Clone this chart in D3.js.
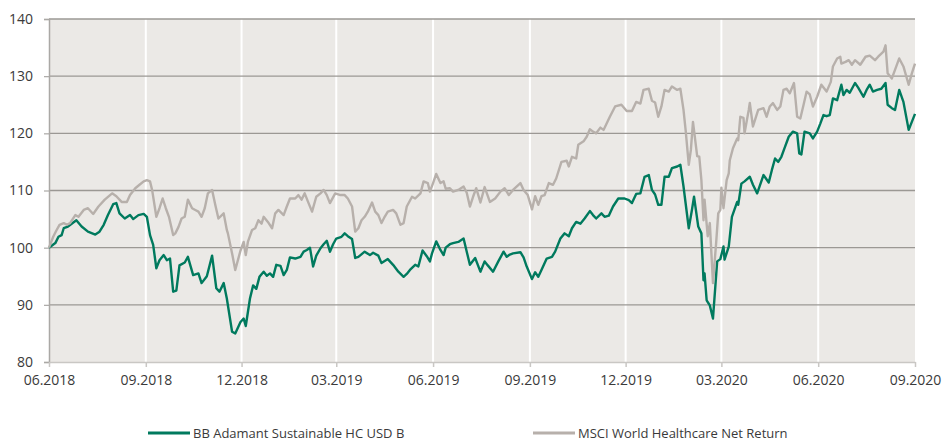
<!DOCTYPE html>
<html>
<head>
<meta charset="utf-8">
<script src="https://cdn.jsdelivr.net/npm/d3@7"></script>
<style>
  body { margin: 0; background: #fff; }
  svg { display: block; font-family: "Open Sans", sans-serif; }
</style>
</head>
<body>
<svg id="chart" width="943" height="442"></svg>
<script>
// days since 01.06.2018 and indexed values (start = 100)
const startDate = new Date(2018, 5, 1);
const endDate = new Date(2020, 8, 1);

const fundDays = [0,6,9,12,14,18,26,31,37,44,48,52,56,61,64,67,72,77,80,85,90,93,96,99,102,105,109,112,115,118,121,124,129,132,137,142,145,150,155,159,162,166,169,174,177,182,185,187,191,194,197,200,204,207,210,213,216,220,223,226,229,234,239,242,245,248,251,254,258,261,264,267,270,273,278,281,284,288,291,294,300,305,308,313,316,322,327,332,337,340,343,348,351,355,359,362,364,368,372,375,377,381,384,389,394,397,400,405,410,414,417,422,427,432,435,438,441,448,451,454,459,462,465,468,473,478,481,486,490,494,497,501,505,509,514,517,520,525,528,532,536,541,547,551,554,558,562,566,570,573,576,579,582,585,589,592,597,600,603,608,611,613,617,620,622,623,625,628,631,635,638,641,642,646,649,654,655,658,661,666,669,673,679,684,687,690,693,696,699,703,707,711,713,715,718,723,726,730,733,736,739,742,745,749,753,755,758,761,766,769,774,777,780,783,787,791,795,797,801,804,808,812,817,820,823];
const fundValues = [100.0,100.8,101.9,102.2,103.4,103.7,104.8,103.7,102.8,102.3,102.8,104.0,105.7,107.6,107.8,106.0,105.1,105.7,105.0,105.7,105.9,105.4,102.2,100.5,96.4,97.8,98.7,97.8,98.1,92.3,92.5,96.9,97.4,98.4,95.2,95.5,93.8,95.0,98.6,92.9,92.3,93.8,91.1,85.3,85.0,87.0,87.6,86.3,91.1,93.4,92.8,94.9,95.8,95.1,95.5,94.9,97.0,96.8,95.2,96.1,98.3,98.1,98.4,99.3,99.6,100.0,96.7,98.6,99.9,100.6,101.2,99.3,100.6,101.6,101.9,102.5,102.0,101.5,98.2,98.4,99.3,98.7,99.1,98.6,97.3,98.0,97.0,95.8,94.9,95.4,96.1,97.0,96.7,99.5,98.5,97.6,99.0,101.1,99.6,98.7,100.0,100.6,100.8,101.0,101.6,99.3,97.0,98.2,95.8,97.6,96.9,95.8,97.6,99.3,98.4,98.8,99.0,99.2,98.3,96.7,94.5,95.7,94.9,96.1,98.1,98.4,99.3,101.6,102.5,102.0,103.4,104.5,104.2,105.1,106.4,105.7,105.1,106.0,105.4,105.6,107.2,108.6,108.6,108.3,107.8,109.4,109.5,112.4,112.7,110.1,109.3,107.5,107.5,112.4,112.4,113.9,114.2,114.5,110.7,103.4,106.6,108.9,103.7,102.5,94.3,95.5,90.8,89.9,87.6,97.6,98.0,100.2,97.9,100.2,105.4,108.0,107.5,111.2,111.6,112.4,111.0,109.5,112.7,111.4,113.6,115.6,115.0,115.9,117.4,119.4,120.3,120.0,116.5,116.3,120.3,120.0,119.1,120.3,121.7,123.2,123.0,123.2,126.1,125.8,128.5,126.7,127.6,127.1,128.8,128.0,126.4,127.6,128.5,127.3,127.6,127.8,128.8,125.0,124.4,124.1,127.6,125.5,120.6,122.0,123.4];

const indexDays = [0,4,7,10,14,17,20,25,28,33,37,42,47,53,60,64,69,74,77,82,86,90,93,96,98,102,105,108,111,114,118,120,123,126,129,132,136,139,142,145,148,151,155,158,161,166,169,170,174,177,182,185,187,189,193,196,199,202,204,208,212,215,218,223,226,229,234,237,240,243,246,250,254,258,261,264,267,272,277,281,284,288,291,294,297,300,303,307,310,313,316,319,322,327,330,334,337,340,345,348,353,356,360,362,365,368,372,375,377,381,384,389,394,397,400,403,406,410,414,419,424,429,433,437,441,448,451,455,459,462,465,468,471,475,479,482,487,492,494,497,501,503,508,511,514,517,520,524,527,533,538,544,549,554,558,562,565,570,573,576,579,582,585,589,592,597,600,603,605,608,610,612,616,618,620,622,623,626,628,631,634,636,638,639,641,644,646,647,650,654,655,657,660,661,665,666,669,674,679,682,685,688,692,695,698,701,704,708,711,714,717,720,723,726,730,734,739,743,745,749,752,753,757,760,763,766,771,776,780,785,788,793,795,797,801,804,808,812,817,820,823];
const indexValues = [100.0,101.9,103.0,104.0,104.3,104.0,104.3,105.7,105.4,106.6,106.9,105.9,107.2,108.4,109.5,109.0,108.0,108.0,109.2,110.4,111.0,111.6,111.8,111.6,110.1,105.4,106.9,108.6,106.9,105.4,102.2,102.5,103.6,105.1,105.4,108.4,106.9,106.6,106.3,105.4,106.9,109.5,110.1,107.5,105.1,106.0,103.1,102.5,99.0,96.1,99.5,101.0,98.7,101.0,103.1,103.4,104.8,104.2,105.4,104.5,103.4,106.0,106.6,105.7,107.2,108.6,108.6,109.2,108.4,109.5,108.1,106.3,108.9,109.5,110.1,109.2,107.8,109.5,109.2,109.2,108.6,107.2,102.8,103.4,104.8,105.4,106.3,107.9,106.3,105.7,104.3,105.4,106.3,106.6,106.0,104.0,104.3,107.2,108.9,108.6,109.5,111.6,111.3,109.8,111.3,112.9,111.3,111.6,110.3,110.4,109.8,110.1,110.7,109.6,107.2,108.9,110.4,107.9,110.6,108.0,108.6,109.8,110.4,109.2,110.1,111.3,110.1,109.2,106.7,109.0,107.5,109.0,109.2,111.3,111.0,112.1,115.0,115.2,114.2,115.9,115.6,118.0,118.6,119.4,120.7,120.3,120.0,121.0,120.6,122.9,124.7,125.0,123.9,123.9,125.5,125.2,127.6,127.8,125.7,125.4,122.9,124.7,127.6,127.3,128.2,127.6,127.8,124.1,120.6,114.5,117.1,122.0,116.0,115.9,111.8,104.8,108.4,102.0,104.3,93.8,100.8,106.0,106.6,110.5,106.9,111.8,113.0,115.3,117.4,119.1,118.8,122.9,122.7,120.0,124.1,125.3,121.2,124.1,124.4,122.9,124.7,125.3,124.1,124.7,127.6,127.8,127.0,128.8,122.9,122.6,124.9,127.3,126.8,124.7,126.4,128.5,127.3,129.0,131.7,133.1,133.4,132.2,132.5,132.8,132.0,132.8,132.0,133.4,133.6,132.8,133.4,134.3,135.4,130.5,129.6,131.1,133.1,131.7,128.5,130.5,132.2];

const yTicks = [80, 90, 100, 110, 120, 130, 140];
const seriesNames = ["BB Adamant Sustainable HC USD B", "MSCI World Healthcare Net Return"];
const seriesColors = ["#007a5e", "#b7b0ab"];

const svg = d3.select("#chart");
const margin = { top: 19, right: 28, bottom: 80, left: 49 };
const width = 943, height = 442;

const x = d3.scaleTime()
    .domain([startDate, endDate])
    .range([margin.left, width - margin.right]);

const y = d3.scaleLinear()
    .domain([80, 140])
    .range([height - margin.bottom, margin.top]);

// plot background
svg.append("rect")
    .attr("x", x.range()[0])
    .attr("y", y(140))
    .attr("width", x.range()[1] - x.range()[0])
    .attr("height", y(80) - y(140))
    .attr("fill", "#ebe9e6");

const xTicks = d3.timeMonth.range(startDate, d3.timeDay.offset(endDate, 1), 3);

// vertical white grid
svg.append("g")
    .selectAll("line")
    .data(xTicks.slice(1, -1))
    .join("line")
    .attr("x1", d => x(d)).attr("x2", d => x(d))
    .attr("y1", y(140)).attr("y2", y(80))
    .attr("stroke", "#fff")
    .attr("stroke-width", 2);

// horizontal grid
svg.append("g")
    .selectAll("line")
    .data(yTicks.slice(1))
    .join("line")
    .attr("x1", x.range()[0]).attr("x2", x.range()[1])
    .attr("y1", d => y(d)).attr("y2", d => y(d))
    .attr("stroke", "#9b9894")
    .attr("stroke-width", 1.3);

// y axis
const yAxis = svg.append("g")
    .attr("transform", `translate(${margin.left},0)`)
    .call(d3.axisLeft(y).tickValues(yTicks).tickSize(5).tickPadding(11).tickFormat(d3.format("d")));
yAxis.select(".domain").attr("stroke", "#aaa8a5").attr("stroke-width", 1.5);
yAxis.selectAll(".tick line").attr("stroke", "#aaa8a5").attr("stroke-width", 1.2);
yAxis.selectAll("text").attr("font-size", 14).attr("fill", "#3a3a3a").attr("font-family", "Open Sans");

// x axis
const xAxis = svg.append("g")
    .attr("transform", `translate(0,${y(80)})`)
    .call(d3.axisBottom(x).tickValues(xTicks).tickSize(5).tickPadding(8).tickFormat(d3.timeFormat("%m.%Y")).tickSizeOuter(0));
xAxis.select(".domain").attr("stroke", "#c9c7c4").attr("stroke-width", 1.5);
xAxis.selectAll(".tick line").attr("stroke", "#c9c7c4").attr("stroke-width", 1.5);
xAxis.selectAll("text").attr("font-size", 14).attr("fill", "#3a3a3a").attr("font-family", "Open Sans");

// lines
const line = d3.line()
    .x(d => x(d.date))
    .y(d => y(d.value));

const toSeries = (days, values) => days.map((d, i) => ({ date: d3.timeDay.offset(startDate, d), value: values[i] }));
const fund = toSeries(fundDays, fundValues);
const index = toSeries(indexDays, indexValues);

svg.append("path")
    .datum(fund)
    .attr("fill", "none")
    .attr("stroke", seriesColors[0])
    .attr("stroke-width", 2.4)
    .attr("stroke-linejoin", "round")
    .attr("d", line);

svg.append("path")
    .datum(index)
    .attr("fill", "none")
    .attr("stroke", seriesColors[1])
    .attr("stroke-width", 2.4)
    .attr("stroke-linejoin", "round")
    .attr("d", line);

// legend
const legendX = [148, 533];
const legend = svg.append("g");
seriesNames.forEach((name, i) => {
    const g = legend.append("g").attr("transform", `translate(${legendX[i]},433)`);
    g.append("line")
        .attr("x1", 0).attr("x2", 42)
        .attr("y1", 0).attr("y2", 0)
        .attr("stroke", seriesColors[i])
        .attr("stroke-width", 3);
    g.append("text")
        .attr("x", 45)
        .attr("dy", "0.35em")
        .attr("font-size", 13)
        .attr("fill", "#3a3a3a")
        .text(name);
});
</script>
</body>
</html>
